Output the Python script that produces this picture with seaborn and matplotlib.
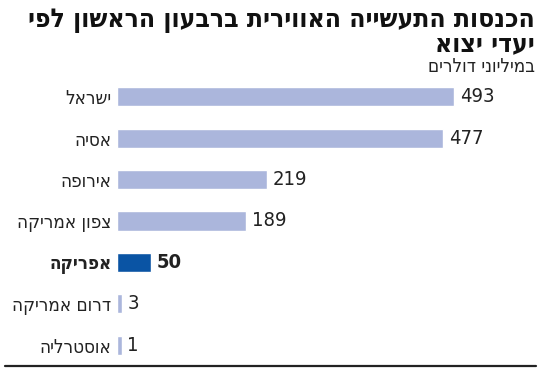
import seaborn as sns
import matplotlib.pyplot as plt
import pandas as pd

# data (Hebrew, logical order)
regions = ['ישראל', 'אסיה', 'אירופה', 'צפון אמריקה', 'אפריקה', 'דרום אמריקה', 'אוסטרליה']
values = [493, 477, 219, 189, 50, 3, 1]
highlight = 'אפריקה'

title_lines = ['הכנסות התעשייה האווירית ברבעון הראשון לפי', 'יעדי יצוא']
subtitle = 'במיליוני דולרים'

LIGHT = '#abb6dc'
DARK = '#0a54a4'
MIN_BAR = 7  # tiny values still get a visible sliver, like the original graphic


def rtl(s):
    # matplotlib has no bidi support, flip the visual order by hand
    return s[::-1]


sns.set_theme(style='white')
plt.rcParams['font.family'] = ['DejaVu Sans']
plt.rcParams['font.stretch'] = 'condensed'

df = pd.DataFrame({'region': [rtl(r) for r in regions], 'value': values})
df['shown'] = df['value'].clip(lower=MIN_BAR)
df['kind'] = ['hi' if r == highlight else 'lo' for r in regions]

fig = plt.figure(figsize=(5.5, 3.71), dpi=100)
ax = fig.add_axes([117 / 550, 1 - 366 / 371, 428 / 550, 290 / 371])

sns.barplot(data=df, x='shown', y='region', hue='kind', palette={'hi': DARK, 'lo': LIGHT},
            dodge=False, legend=False, width=0.46, saturation=1, ax=ax)

ax.set_xlim(0, 428 / 0.684)
ax.set_ylim(6.5, -0.5)
ax.set_xlabel('')
ax.set_ylabel('')
ax.set_xticks([])
sns.despine(ax=ax, left=True, bottom=True)
ax.tick_params(axis='y', length=0, pad=4, labelsize=13.5, labelcolor='#222222')
for lab, r in zip(ax.get_yticklabels(), regions):
    lab.set_fontstretch('condensed')
    if r == highlight:
        lab.set_fontweight('bold')

for i, row in df.iterrows():
    ax.text(row['shown'] + 8, i, str(row['value']), va='center', ha='left', fontsize=14.5,
            color='#222222', fontweight='bold' if row['kind'] == 'hi' else 'normal')

fig.text(535 / 550, 1 - 20 / 371, rtl(title_lines[0]), ha='right', va='center',
         fontsize=19, fontweight='bold', color='#111111')
fig.text(535 / 550, 1 - 44 / 371, rtl(title_lines[1]), ha='right', va='center',
         fontsize=19, fontweight='bold', color='#111111')
fig.text(535 / 550, 1 - 67 / 371, rtl(subtitle), ha='right', va='center',
         fontsize=13.5, color='#222222')

fig.add_artist(plt.Line2D([5 / 550, 536 / 550], [1 - 366 / 371] * 2, color='#222222', lw=1.6))

fig.savefig('out.png', dpi=100)
